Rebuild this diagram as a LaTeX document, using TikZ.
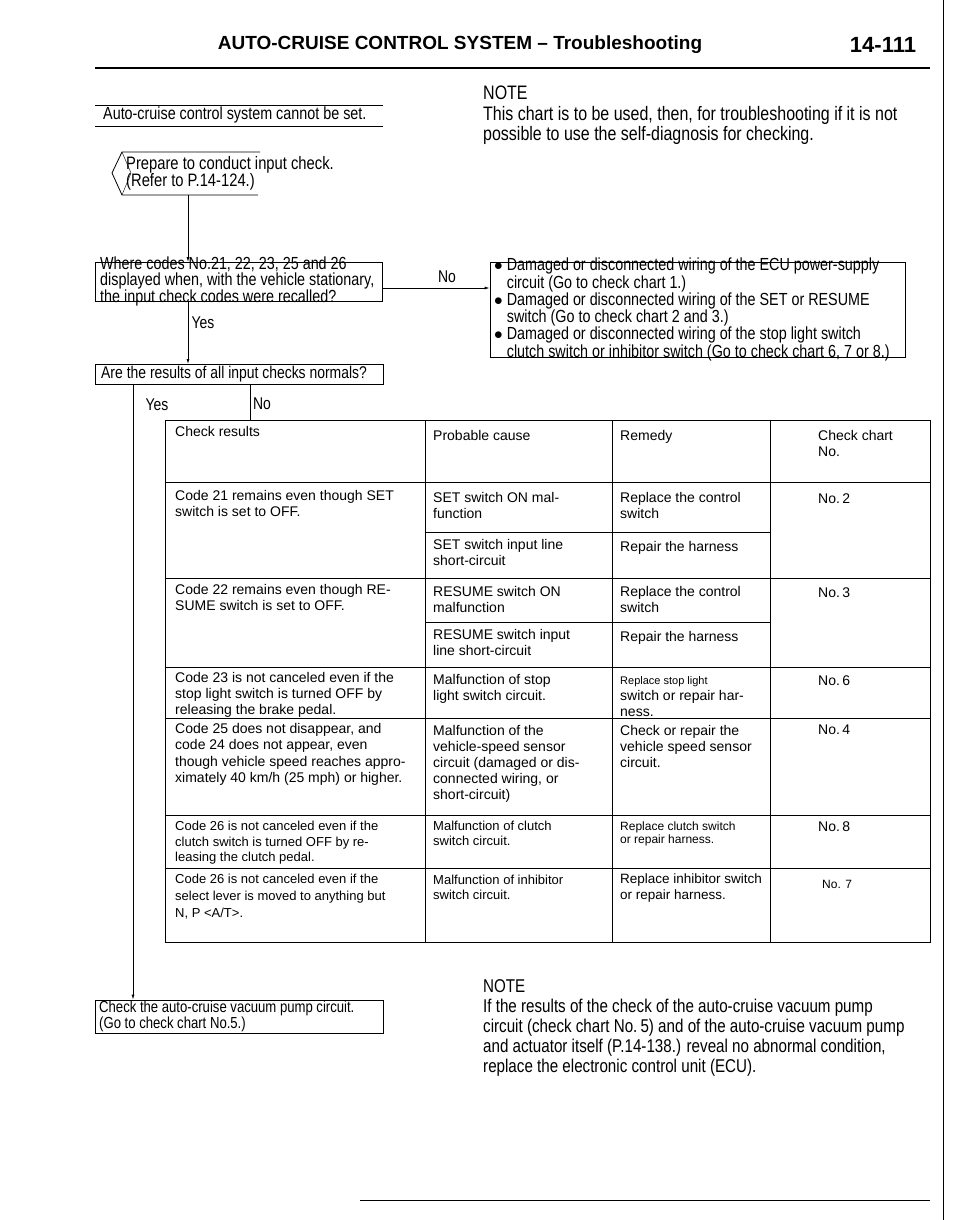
\documentclass[tikz,border=0pt]{standalone}
\usepackage{fontspec}
\setmainfont{Liberation Sans}
\newfontfamily\narrow[FakeStretch=0.82]{Liberation Sans}
\usetikzlibrary{positioning,arrows.meta}
\begin{document}
\begin{tikzpicture}[x=1pt,y=-1pt,>={Latex[length=5pt,width=3pt]}]
  \tikzstyle{box}=[draw,thick,inner sep=0pt]
  \tikzstyle{flow}=[font=\narrow\fontsize{17}{16}\selectfont,align=left,anchor=west,inner sep=0pt]
  \tikzstyle{cell}=[font=\fontsize{14}{16}\selectfont,align=left,anchor=north west,inner sep=0pt]
  \tikzstyle{lbl}=[font=\narrow\fontsize{17}{16}\selectfont]
  \useasboundingbox (0,0) rectangle (960,1220);
  % header
  \node[font=\bfseries\fontsize{19}{22}\selectfont] (head) at (460,45) {AUTO-CRUISE CONTROL SYSTEM -- Troubleshooting};
  \node[font=\bfseries\fontsize{22}{24}\selectfont] (page) at (883,45) {14-111};
  \draw[line width=2pt] (95,68) -- (930,68);
  \draw (943,0) -- (943,1220);
  \draw[thick] (360,1200) -- (930,1200);
  % start
  \draw[thick] (95,105) -- (383,105) (95,126) -- (383,126);
  \node[flow,font=\narrow\fontsize{17.5}{15}\selectfont] (start) at (103,115) {Auto-cruise control system cannot be set.};
  \node[flow,anchor=north west,font=\narrow\fontsize{19.5}{20.5}\selectfont] (note1) at (483,86) {NOTE\\This chart is to be used, then, for troubleshooting if it is not\\possible to use the self-diagnosis for checking.};
  % prepare
  \draw[thick] (260,152) -- (122,152) -- (112,173) -- (122,195) -- (258,195);
  \draw (122,152) -- (131,173) -- (122,195);
  \coordinate (prep) at (188,195);
  \node[flow,font=\narrow\fontsize{18}{17}\selectfont] (preptxt) at (126,173) {Prepare to conduct input check.\\(Refer to P.14-124.)};
  % where codes
  \node[box,minimum width=287pt,minimum height=39pt] (where) at (238.5,281.5) {};
  \node[flow,font=\narrow\fontsize{17.5}{13}\selectfont] at (100,281.5) {Where codes No.21, 22, 23, 25 and 26\\displayed when, with the vehicle stationary,\\the input check codes were recalled?};
  \draw[thick,->] (prep) -- (188,262);
  \node[box,minimum width=415pt,minimum height=95pt] (cause) at (697.5,309.5) {};
  \node[flow,font=\narrow\fontsize{17.5}{15.3}\selectfont] at (494,309.5) {$\bullet$ Damaged or disconnected wiring of the ECU power-supply\\\phantom{$\bullet$ }circuit (Go to check chart 1.)\\$\bullet$ Damaged or disconnected wiring of the SET or RESUME\\\phantom{$\bullet$ }switch (Go to check chart 2 and 3.)\\$\bullet$ Damaged or disconnected wiring of the stop light switch\\\phantom{$\bullet$ }clutch switch or inhibitor switch (Go to check chart 6, 7 or 8.)};
  \draw[thick,->] (where.east |- 0,288) -- (cause.west |- 0,288);
  \node[lbl] (no1) at (447,277) {No};
  \node[lbl] (yes1) at (203,323) {Yes};
  % are results
  \node[box,minimum width=288pt,minimum height=20pt] (are) at (239,374) {};
  \node[flow] at (101,374) {Are the results of all input checks normals?};
  \draw[thick,->] (188,301) -- (188,364);
  \node[lbl] (yes2) at (157,405) {Yes};
  \node[lbl] (no2) at (262,404) {No};
  % table
  \draw[thick] (165,420) rectangle (930,942);
  \foreach \y in {482,578,667,718,815,868} \draw[thick] (165,\y) -- (930,\y);
  \foreach \y in {532,622} \draw[thick] (425,\y) -- (770,\y);
  \foreach \x in {425,612,770} \draw[thick] (\x,420) -- (\x,942);
  \draw[thick] (250,384) -- (250,420);
  \node[cell] (h1) at (175,426) {Check results};
  \node[cell] (h2) at (433,430) {Probable cause};
  \node[cell] (h3) at (620,430) {Remedy};
  \node[cell] (h4) at (818,430) {Check chart\\No.};
  \node[cell] at (175,490) {Code 21 remains even though SET\\switch is set to OFF.};
  \node[cell] at (433,492) {SET switch ON mal-\\function};
  \node[cell] at (620,492) {Replace the control\\switch};
  \node[cell] at (818,494) {No.\,2};
  \node[cell] at (433,539) {SET switch input line\\short-circuit};
  \node[cell] at (620,541) {Repair the harness};
  \node[cell] at (175,584) {Code 22 remains even though RE-\\SUME switch is set to OFF.};
  \node[cell] at (433,586) {RESUME switch ON\\malfunction};
  \node[cell] at (620,586) {Replace the control\\switch};
  \node[cell] at (818,588) {No.\,3};
  \node[cell] at (433,629) {RESUME switch input\\line short-circuit};
  \node[cell] at (620,631) {Repair the harness};
  \node[cell] at (175,672) {Code 23 is not canceled even if the\\stop light switch is turned OFF by\\releasing the brake pedal.};
  \node[cell] at (433,674) {Malfunction of stop\\light switch circuit.};
  \node[cell] at (620,676) {\fontsize{11}{17}\selectfont Replace stop light\\\fontsize{14}{16}\selectfont switch or repair har-\\ness.};
  \node[cell] at (818,676) {No.\,6};
  \node[cell,font=\fontsize{14}{16.5}\selectfont] at (175,723) {Code 25 does not disappear, and\\code 24 does not appear, even\\though vehicle speed reaches appro-\\ximately 40 km/h (25 mph) or higher.};
  \node[cell] at (433,725) {Malfunction of the\\vehicle-speed sensor\\circuit (damaged or dis-\\connected wiring, or\\short-circuit)};
  \node[cell] at (620,725) {Check or repair the\\vehicle speed sensor\\circuit.};
  \node[cell] at (818,725) {No.\,4};
  \node[cell,font=\fontsize{13}{15.5}\selectfont] at (175,821) {Code 26 is not canceled even if the\\clutch switch is turned OFF by re-\\leasing the clutch pedal.};
  \node[cell,font=\fontsize{13}{15}\selectfont] at (433,821) {Malfunction of clutch\\switch circuit.};
  \node[cell,font=\fontsize{12}{13}\selectfont] at (620,822) {Replace clutch switch\\or repair harness.};
  \node[cell] at (818,822) {No.\,8};
  \node[cell,font=\fontsize{13}{17}\selectfont] at (175,874) {Code 26 is not canceled even if the\\select lever is moved to anything but\\N, P <A/T>.};
  \node[cell,font=\fontsize{13}{15}\selectfont] at (433,875) {Malfunction of inhibitor\\switch circuit.};
  \node[cell,font=\fontsize{13.5}{16}\selectfont] at (620,874) {Replace inhibitor switch\\or repair harness.};
  \node[cell,font=\fontsize{12}{14}\selectfont] at (822,880) {No. 7};
  % vacuum pump
  \node[box,minimum width=288pt,minimum height=33pt] (pump) at (239,1016.5) {};
  \node[flow,font=\narrow\fontsize{16}{16}\selectfont] at (99,1016.5) {Check the auto-cruise vacuum pump circuit.\\(Go to check chart No.5.)};
  \draw[thick,->] (133,384) -- (pump.north -| 133,0);
  \node[flow,anchor=north west,font=\narrow\fontsize{18.5}{20}\selectfont] (note2) at (483,979) {NOTE\\If the results of the check of the auto-cruise vacuum pump\\circuit (check chart No.\,5) and of the auto-cruise vacuum pump\\and actuator itself (P.14-138.) reveal no abnormal condition,\\replace the electronic control unit (ECU).};
\end{tikzpicture}
\end{document}
